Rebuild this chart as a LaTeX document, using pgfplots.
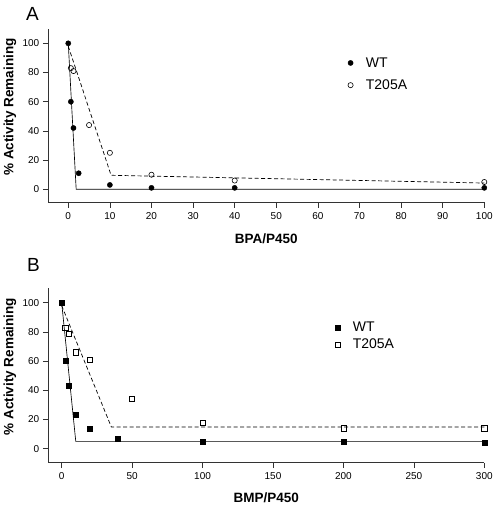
\documentclass[border=0pt]{standalone}
\usepackage{fontspec}
\setmainfont{Liberation Sans}
\usepackage{pgfplots}
\pgfplotsset{compat=1.18}
\begin{document}
\begin{tikzpicture}
\useasboundingbox (0pt,0pt) rectangle (496pt,-506pt);
\pgfplotsset{
  common/.style={
    scale only axis, clip=false,
    axis lines*=left,
    axis line style={black!80, line width=0.6pt},
    tick style={black!80, line width=0.6pt},
    tick align=outside,
    major tick length=5.5pt,
    /pgf/number format/assume math mode=true,
    tick label style={font=\fontsize{10}{12}\selectfont},
    label style={font=\fontsize{13.5}{16}\selectfont\bfseries},
    ylabel={\% Activity Remaining},
    ytick={0,20,40,60,80,100},
    xticklabel style={yshift=-1pt},
    legend cell align=left,
    legend style={draw=none, fill=none, font=\fontsize{14}{16}\selectfont, row sep=7pt},
    legend image code/.code={\path (-2pt,0) (13pt,0); \draw[#1] plot coordinates {(0pt,0pt)};},
  },
}
% Panel A
\begin{axis}[common,
  at={(48.3pt,-202.3pt)}, anchor=south west,
  width=436pt, height=173pt,
  xmin=-4.8, xmax=100, ymin=-8.9, ymax=109.6,
  xtick={0,10,...,100},
  xlabel={BPA/P450},
  xlabel style={at={(axis description cs:0.5,-0.209)}, anchor=center},
  ylabel style={at={(axis description cs:-0.088,0.551)}, anchor=center},
  legend style={at={(axis description cs:0.68,0.862)}, anchor=north west},
]
\addplot[black, line width=0.65pt, forget plot] coordinates {(0,100) (1.9,0) (100,0)};
\addplot[black, line width=0.7pt, dash pattern=on 4pt off 2.5pt, forget plot] coordinates {(0,98) (10.3,9.6) (100,4.3)};
\addplot[only marks, mark=*, mark size=2.6pt, black] coordinates {
  (0,100) (0.625,60) (1.25,42) (2.5,11) (10,3) (20,1) (40,1) (100,1)};
\addlegendentry{WT}
\addplot[only marks, mark=o, mark size=2.6pt, black, line width=0.6pt] coordinates {
  (0.625,83) (1.25,81) (5,44) (10,25) (20,10) (40,6) (100,5)};
\addlegendentry{T205A}
\end{axis}
\node[font=\fontsize{19}{22}\selectfont] at (32.5pt,-13.5pt) {A};
% Panel B
\begin{axis}[common,
  at={(48.3pt,-462.7pt)}, anchor=south west,
  width=436pt, height=174.4pt,
  xmin=-9.5, xmax=300, ymin=-9.6, ymax=109.9,
  xtick={0,50,...,300},
  xlabel={BMP/P450},
  xlabel style={at={(axis description cs:0.5,-0.202)}, anchor=center},
  ylabel style={at={(axis description cs:-0.088,0.55)}, anchor=center},
  legend style={at={(axis description cs:0.65,0.831)}, anchor=north west, row sep=2pt},
]
\addplot[black, line width=0.65pt, forget plot] coordinates {(0,100) (10,5) (300,5)};
\addplot[black, line width=0.7pt, dash pattern=on 4pt off 2.5pt, forget plot] coordinates {(0,98) (35.3,14.8) (300,14.8)};
\addplot[only marks, mark=square*, mark size=2.5pt, black] coordinates {
  (0,100) (2.5,60) (5,43) (10,23) (20,14) (40,7) (100,5) (200,5) (300,4)};
\addlegendentry{WT}
\addplot[only marks, mark=square, mark size=2.6pt, black, line width=0.6pt] coordinates {
  (2.5,83) (5,79) (10,66) (20,61) (50,34) (100,18) (200,14) (300,14)};
\addlegendentry{T205A}
\end{axis}
\node[font=\fontsize{19}{22}\selectfont] at (33.5pt,-264.5pt) {B};
\end{tikzpicture}
\end{document}
